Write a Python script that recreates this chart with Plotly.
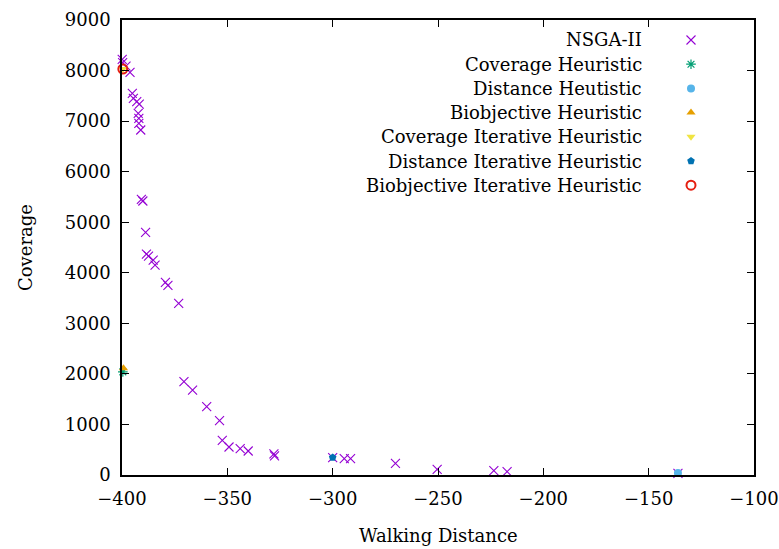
import plotly.graph_objects as go

# ---------------- data ----------------
nsga_x = [-399.9, -399.7, -398.1, -396.2, -395.1, -394.6, -393.0, -391.8, -392.3, -392.0,
          -392.0, -391.1, -390.8, -390.1, -388.8, -388.4, -387.4, -385.2, -384.3, -379.4,
          -378.2, -373.1, -370.6, -366.5, -359.8, -353.7, -352.4, -349.2, -343.9, -340.1,
          -327.9, -327.6, -300.0, -294.5, -291.5, -270.2, -250.4, -223.5, -217.2, -136.1]
nsga_y = [8222, 8155, 8089, 7965, 7549, 7451, 7384, 7338, 7154, 7055,
          6956, 6824, 5450, 5420, 4800, 4371, 4331, 4252, 4153, 3811,
          3752, 3396, 1845, 1681, 1351, 1074, 686, 554, 520, 475,
          420, 380, 342, 323, 323, 230, 112, 85, 66, 33]

cov_h_x, cov_h_y = [-399.6], [2040]
dist_h_x, dist_h_y = [-136.1], [40]
bio_h_x, bio_h_y = [-399.3], [2110]
cov_it_x, cov_it_y = [-399.6], [8030]
dist_it_x, dist_it_y = [-300.0], [345]
bio_it_x, bio_it_y = [-399.6], [8030]

series_names = ["NSGA-II", "Coverage Heuristic", "Distance Heutistic", "Biobjective Heuristic",
                "Coverage Iterative Heuristic", "Distance Iterative Heuristic",
                "Biobjective Iterative Heuristic"]

x_ticks = [-400, -350, -300, -250, -200, -150, -100]
y_ticks = [0, 1000, 2000, 3000, 4000, 5000, 6000, 7000, 8000, 9000]

# ---------------- styles ----------------
FONT = "DejaVu Serif"
FS = 18
styles = [
    dict(symbol="x-thin-open", size=9, color="#9400D3", line=dict(width=1.1, color="#9400D3")),
    dict(symbol="asterisk-open", size=8, color="#009E73", line=dict(width=1.2, color="#009E73")),
    dict(symbol="circle", size=8, color="#56B4E9", line=dict(width=0)),
    dict(symbol="triangle-up", size=8, color="#E69F00", line=dict(width=0)),
    dict(symbol="triangle-down", size=8, color="#F0E442", line=dict(width=0)),
    dict(symbol="pentagon", size=8, color="#0072B2", line=dict(width=0)),
    dict(symbol="circle-open", size=9, color="#E51E10", line=dict(width=2, color="#E51E10")),
]

data = [(nsga_x, nsga_y), (cov_h_x, cov_h_y), (dist_h_x, dist_h_y), (bio_h_x, bio_h_y),
        (cov_it_x, cov_it_y), (dist_it_x, dist_it_y), (bio_it_x, bio_it_y)]

fig = go.Figure()
for (xs, ys), name, st in zip(data, series_names, styles):
    fig.add_trace(go.Scatter(x=xs, y=ys, mode="markers", name=name, marker=st,
                             showlegend=False, cliponaxis=False))

# ---------------- manual legend (gnuplot style: text right, key left) ----------------
L, R, T, B = 122, 25, 20, 74
W, H = 779, 549
pw, ph = W - L - R, H - T - B
text_right = (644 - L) / pw
key_x = (691 - L) / pw
row0 = (475 - 40) / ph
step = 24.2 / ph
for i, (name, st) in enumerate(zip(series_names, styles)):
    yy = row0 - i * step
    fig.add_annotation(x=text_right, y=yy, xref="paper", yref="paper", text=name,
                       showarrow=False, xanchor="right", yanchor="middle",
                       font=dict(family=FONT, size=FS, color="black"))
    fig.add_trace(go.Scatter(x=[key_x], y=[yy], xaxis="x2", yaxis="y2", mode="markers",
                             marker=st, showlegend=False, hoverinfo="skip", cliponaxis=False))

# axis titles
fig.add_annotation(x=(25 - L) / pw, y=(475 - 247) / ph, xref="paper", yref="paper",
                   text="Coverage", textangle=-90, showarrow=False,
                   xanchor="center", yanchor="middle",
                   font=dict(family=FONT, size=FS, color="black"))
fig.add_annotation(x=0.5, y=(475 - 535) / ph, xref="paper", yref="paper",
                   text="Walking Distance", showarrow=False,
                   xanchor="center", yanchor="middle",
                   font=dict(family=FONT, size=FS, color="black"))

axis_common = dict(showgrid=False, zeroline=False, showline=True, linecolor="black",
                   linewidth=1.5, mirror="ticks", ticks="inside", ticklen=7, tickwidth=1.2,
                   tickcolor="black", automargin=False,
                   tickfont=dict(family=FONT, size=FS, color="black"))

fig.update_layout(
    width=W, height=H,
    margin=dict(l=L, r=R, t=T, b=B, autoexpand=False),
    plot_bgcolor="white", paper_bgcolor="white",
    xaxis=dict(range=[-400, -100], tickvals=x_ticks,
               ticktext=["\u2212" + str(abs(v)) for v in x_ticks],
               ticklabelstandoff=7, **axis_common),
    yaxis=dict(range=[0, 9000], tickvals=y_ticks, ticktext=[str(v) for v in y_ticks],
               ticklabelstandoff=6, **axis_common),
    xaxis2=dict(range=[0, 1], overlaying="x", visible=False, fixedrange=True),
    yaxis2=dict(range=[0, 1], overlaying="y", visible=False, fixedrange=True),
    showlegend=False,
)

fig.write_html("out.html")
